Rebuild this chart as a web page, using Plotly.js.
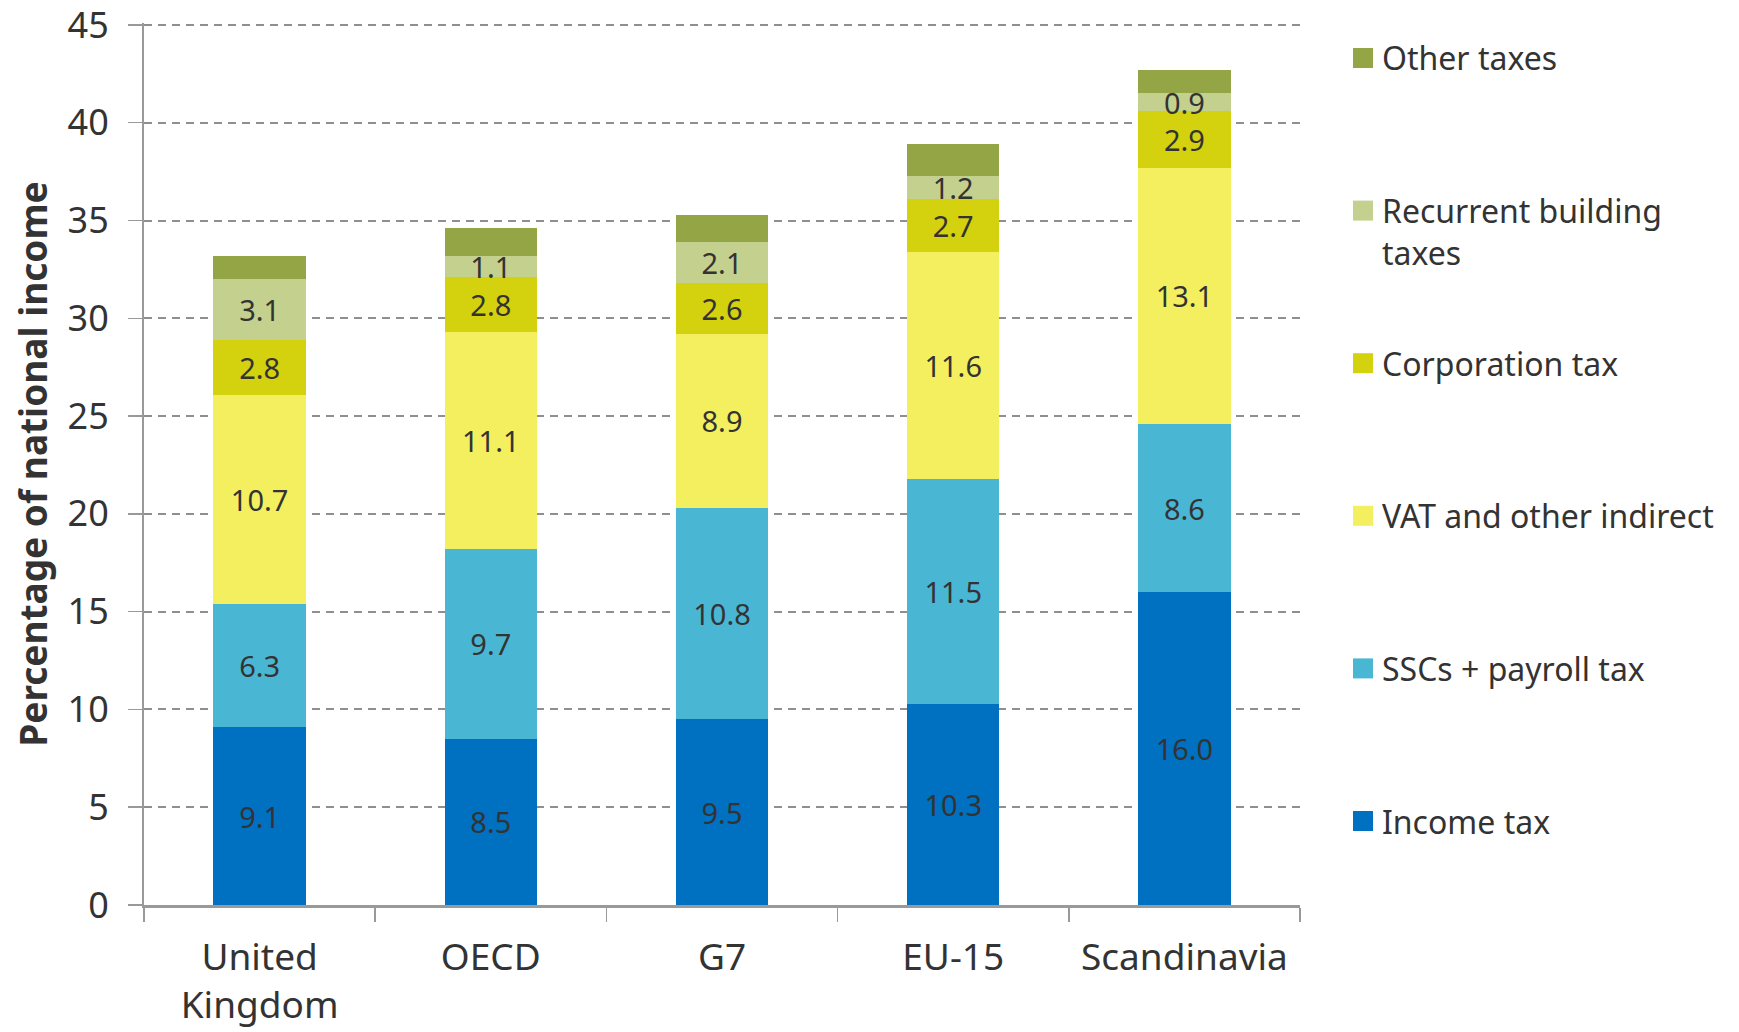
<!DOCTYPE html>
<html>
<head>
<meta charset="utf-8">
<script src="https://cdn.plot.ly/plotly-3.0.1.min.js"></script>
<style>html,body{margin:0;padding:0;background:#fff;}#chart{width:1739px;height:1032px;}</style>
</head>
<body>
<div id="chart"></div>
<script>
const categories = ["United Kingdom", "OECD", "G7", "EU-15", "Scandinavia"];
const tickLabels = ["United<br>Kingdom", "OECD", "G7", "EU-15", "Scandinavia"];

const incomeTax = [9.1, 8.5, 9.5, 10.3, 16.0];
const sscsPayroll = [6.3, 9.7, 10.8, 11.5, 8.6];
const vatIndirect = [10.7, 11.1, 8.9, 11.6, 13.1];
const corporationTax = [2.8, 2.8, 2.6, 2.7, 2.9];
const recurrentBuilding = [3.1, 1.1, 2.1, 1.2, 0.9];
const otherTaxes = [1.2, 1.4, 1.4, 1.6, 1.2];

const seriesNames = ["Income tax", "SSCs + payroll tax", "VAT and other indirect", "Corporation tax", "Recurrent building<br>taxes", "Other taxes"];
const seriesValues = [incomeTax, sscsPayroll, vatIndirect, corporationTax, recurrentBuilding, otherTaxes];
const seriesColors = ["#0070C0", "#49B7D4", "#F3EF5F", "#D4D10F", "#C4D08E", "#94A545"];
const showLabels = [true, true, true, true, true, false];

const FONT = "Noto Sans, Open Sans, sans-serif";
const TXT = "#333333";

const traces = seriesNames.map((name, i) => ({
  type: "bar",
  name: name,
  x: categories,
  y: seriesValues[i],
  marker: {color: seriesColors[i], line: {width: 0}},
  text: showLabels[i] ? seriesValues[i].map(v => v.toFixed(1)) : seriesValues[i].map(() => ""),
  texttemplate: "%{text}",
  textposition: showLabels[i] ? "inside" : "none",
  insidetextanchor: "middle",
  textangle: 0,
  textfont: {family: FONT, size: 29, color: TXT},
  hoverinfo: "x+y+name",
  showlegend: false
}));

// Manual legend (top item = last series)
const legendOrder = [5, 4, 3, 2, 1, 0];
const plotTop = 23, plotBottom = 905, plotLeft = 144, plotRight = 1300;
const pw = plotRight - plotLeft, ph = plotBottom - plotTop;
const shapes = [];
const annotations = [];
legendOrder.forEach((si, k) => {
  const cy = 58 + 152.6 * k;
  const yc = (plotBottom - cy) / ph;
  const half = 10 / ph;
  shapes.push({
    type: "rect", xref: "paper", yref: "paper",
    x0: (1353 - plotLeft) / pw, x1: (1373 - plotLeft) / pw,
    y0: yc - half, y1: yc + half,
    fillcolor: seriesColors[si], line: {width: 0}
  });
  const multi = seriesNames[si].indexOf("<br>") >= 0;
  annotations.push({
    xref: "paper", yref: "paper",
    x: (1380 - plotLeft) / pw,
    y: multi ? (plotBottom - (cy + 21)) / ph : yc,
    xanchor: "left", yanchor: "middle", align: "left",
    text: seriesNames[si], showarrow: false,
    font: {family: FONT, size: 32, color: TXT}
  });
});

const layout = {
  width: 1739, height: 1032,
  margin: {l: plotLeft, r: 1739 - plotRight, t: plotTop, b: 1032 - plotBottom, pad: 0},
  paper_bgcolor: "#ffffff", plot_bgcolor: "#ffffff",
  barmode: "stack",
  bargap: 0.6,
  font: {family: FONT, color: TXT},
  uniformtext: {mode: "show", minsize: 29},
  xaxis: {
    tickmode: "array", tickvals: categories, ticktext: tickLabels,
    tickson: "boundaries", ticks: "outside", ticklen: 14, tickwidth: 1.5, tickcolor: "#999999",
    showline: true, linecolor: "#999999", linewidth: 2.5,
    showgrid: false, zeroline: false,
    tickfont: {family: FONT, size: 37, color: TXT},
    ticklabelstandoff: 18,
    fixedrange: true
  },
  yaxis: {
    range: [0, 45.1], tickmode: "array", tickvals: [0, 5, 10, 15, 20, 25, 30, 35, 40, 45],
    ticks: "outside", ticklen: 14, tickwidth: 1.5, tickcolor: "#999999",
    showline: true, linecolor: "#999999", linewidth: 2,
    showgrid: true, gridcolor: "#8f8f8f", gridwidth: 2, griddash: "8px,6px",
    zeroline: false,
    tickfont: {family: FONT, size: 36, color: TXT},
    ticklabelstandoff: 12,
    ticklabeloverflow: "allow",
    title: {text: "<b>Percentage of national income</b>", font: {family: FONT, size: 37, color: TXT}, standoff: 9},
    fixedrange: true
  },
  shapes: shapes,
  annotations: annotations
};

Plotly.newPlot("chart", traces, layout, {displayModeBar: false, staticPlot: true});
</script>
</body>
</html>
